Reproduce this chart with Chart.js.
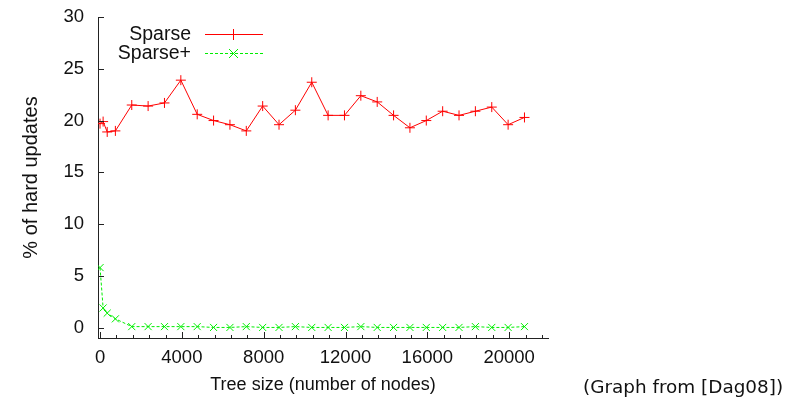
<!DOCTYPE html>
<html>
<head>
<meta charset="utf-8">
<script src="https://cdn.jsdelivr.net/npm/chart.js@4"></script>
<style>
  html, body { margin: 0; padding: 0; background: #fff; }
  #wrap { position: relative; width: 798px; height: 403px; }
  #note { position: absolute; left: 583px; top: 376px; font: 18.4px "DejaVu Sans", sans-serif; color: #111; white-space: nowrap; }
</style>
</head>
<body>
<div id="wrap">
  <canvas id="grafica" width="798" height="403"></canvas>
  <div id="note">(Graph from [Dag08])</div>
</div>
<script>
// tree sizes (number of nodes)
const treeSizes = [0, 150, 350, 750, 1550, 2350, 3150, 3950, 4750, 5550, 6350, 7150, 7950, 8750, 9550,
  10350, 11150, 11950, 12750, 13550, 14350, 15150, 15950, 16750, 17550, 18350, 19150, 19950, 20750];
// % of hard updates
const sparse = [19.7, 19.9, 18.9, 19.0, 21.5, 21.4, 21.7, 23.9, 20.6, 20.0, 19.6, 19.0, 21.4, 19.6, 21.0,
  23.7, 20.5, 20.5, 22.4, 21.8, 20.5, 19.3, 20.0, 20.9, 20.5, 20.9, 21.3, 19.6, 20.3];
const sparsePlus = [5.8, 1.9, 1.4, 0.85, 0.1, 0.1, 0.1, 0.1, 0.1, 0.02, 0.02, 0.1, 0.02, 0.02, 0.1,
  0.02, 0.02, 0.02, 0.1, 0.02, 0.02, 0.02, 0.02, 0.02, 0.02, 0.1, 0.02, 0.02, 0.1];
const xTicks = [0, 4000, 8000, 12000, 16000, 20000];
const yTicks = [0, 5, 10, 15, 20, 25, 30];

const fuente = 'Liberation Sans, Arial, sans-serif';
const rojo = '#ff0000';
const verde = '#00ee00';

function puntos(ys) {
  return treeSizes.map((x, i) => ({ x: x, y: ys[i] }));
}

// gnuplot style: ticks drawn inward, legend text right-aligned before the sample
const marcas = {
  id: 'marcas',
  afterDraw(chart) {
    const c = chart.ctx;
    const xs = chart.scales.x, ys = chart.scales.y;
    const a = chart.chartArea;
    c.save();
    c.strokeStyle = '#222';
    c.lineWidth = 1;
    c.beginPath();
    yTicks.forEach(v => {
      const py = Math.round(ys.getPixelForValue(v)) + 0.5;
      c.moveTo(a.left, py); c.lineTo(a.left + 6, py);
    });
    for (let v = 0; v <= xs.max; v += 800) {
      const px = Math.round(xs.getPixelForValue(v)) + 0.5;
      const len = v % 4000 === 0 ? 6 : 3;
      c.moveTo(px, a.bottom); c.lineTo(px, a.bottom - len);
    }
    c.stroke();

    c.font = '19.5px ' + fuente;
    c.fillStyle = '#111';
    c.textAlign = 'right';
    c.textBaseline = 'middle';
    const colores = [rojo, verde];
    chart.data.datasets.forEach((ds, i) => {
      const y = 34 + i * 19;
      c.fillText(ds.label, 191, y + 1);
      c.strokeStyle = colores[i];
      c.lineWidth = 1;
      c.setLineDash(i === 1 ? [3, 2] : []);
      c.beginPath();
      c.moveTo(205, y + 0.5); c.lineTo(263, y + 0.5);
      c.stroke();
      c.setLineDash([]);
      c.beginPath();
      if (i === 0) {
        c.moveTo(233.5, y - 5); c.lineTo(233.5, y + 6);
        c.moveTo(228, y + 0.5); c.lineTo(239, y + 0.5);
      } else {
        c.moveTo(229, y - 4); c.lineTo(238, y + 5);
        c.moveTo(238, y - 4); c.lineTo(229, y + 5);
      }
      c.stroke();
    });
    c.restore();
  }
};

const ctx = document.getElementById('grafica').getContext('2d');
const miGrafica = new Chart(ctx, {
  type: 'line',
  data: {
    datasets: [{
      label: 'Sparse',
      data: puntos(sparse),
      borderColor: rojo,
      backgroundColor: rojo,
      borderWidth: 1,
      pointStyle: 'cross',
      pointRadius: 5,
      pointBorderWidth: 1,
      tension: 0
    }, {
      label: 'Sparse+',
      data: puntos(sparsePlus),
      borderColor: verde,
      backgroundColor: verde,
      borderWidth: 1,
      borderDash: [3, 2],
      pointStyle: 'crossRot',
      pointRadius: 5,
      pointBorderWidth: 1,
      tension: 0
    }]
  },
  options: {
    responsive: false,
    animation: false,
    devicePixelRatio: 1,
    layout: { padding: { left: 0, top: 17, right: 250, bottom: 0 } },
    plugins: { legend: { display: false }, tooltip: { enabled: false } },
    scales: {
      x: {
        type: 'linear',
        min: -100,
        max: 21900,
        afterBuildTicks: s => { s.ticks = xTicks.map(v => ({ value: v })); },
        afterFit: s => { s.height = 65; s.paddingLeft = 0; s.paddingRight = 0; },
        grid: { display: false, drawTicks: false },
        border: { color: '#222', width: 1 },
        ticks: { color: '#111', font: { family: fuente, size: 18.5 }, padding: 9, maxRotation: 0,
                 callback: v => String(v) },
        title: { display: true, text: 'Tree size (number of nodes)', color: '#111',
                 font: { family: fuente, size: 18 }, padding: { top: 0, bottom: 7 } }
      },
      y: {
        min: -1,
        max: 30,
        afterBuildTicks: s => { s.ticks = yTicks.map(v => ({ value: v })); },
        afterFit: s => { s.width = 98; s.paddingTop = 0; s.paddingBottom = 0; },
        grid: { display: false, drawTicks: false },
        border: { color: '#222', width: 1 },
        ticks: { color: '#111', font: { family: fuente, size: 18.5 }, padding: 14,
                 callback: v => String(v) },
        title: { display: true, text: '% of hard updates', color: '#111',
                 font: { family: fuente, size: 20 }, padding: { top: 19, bottom: 0 } }
      }
    }
  },
  plugins: [marcas]
});
</script>
</body>
</html>
